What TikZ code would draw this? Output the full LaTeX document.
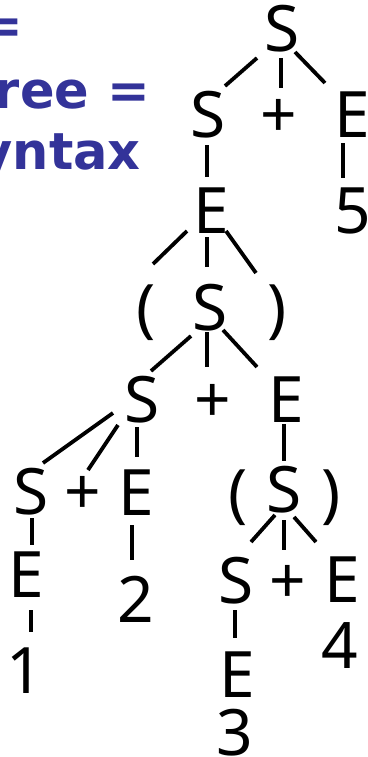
\documentclass[tikz,border=0pt]{standalone}
\usepackage{fontspec}
\setmainfont{Noto Sans}
\newfontfamily\bluefont{DejaVu Sans}
\usetikzlibrary{calc}
\definecolor{slideblue}{RGB}{51,51,153}
\begin{document}
\begin{tikzpicture}[x=1pt,y=-1pt,
  sym/.style={anchor=base,inner sep=0pt,font=\fontsize{64}{64}\selectfont},
  edge/.style={line width=3.8pt},
  heading/.style={anchor=base east,inner sep=0pt,text=slideblue,font=\bluefont\bfseries\fontsize{51}{51}\selectfont}]
\useasboundingbox (0,0) rectangle (367,757);
\clip (0,0) rectangle (367,757);
% heading fragments
\node[heading] (h1) at (23,44) {=};
\node[heading] (h2) at (150,109) {ree =};
\node[heading] (h3) at (141,169) {yntax};
% tree symbols
\node[sym] (s0) at (282,52) {S};
\node[sym] (s1) at (208,138) {S};
\node[sym] (p1) at (279,138) {+};
\node[sym] (e1) at (352,137) {E};
\node[sym] (e2) at (211,233) {E};
\node[sym] (n5) at (353,233) {5};
\node[sym] (lp1) at (146,330) {(};
\node[sym] (s2) at (210,330) {S};
\node[sym] (rp1) at (277,330) {)};
\node[sym] (s3) at (142,422) {S};
\node[sym] (p3) at (213,422) {+};
\node[sym] (e3) at (286,422) {E};
\node[sym] (s4) at (31,514) {S};
\node[sym] (p4) at (83,514) {+};
\node[sym] (e4) at (136,515) {E};
\node[sym] (lp2) at (238,515) {(};
\node[sym] (s5) at (284,512) {S};
\node[sym] (rp2) at (331,515) {)};
\node[sym] (e5) at (26,597) {E};
\node[sym] (n2) at (136,622) {2};
\node[sym] (s6) at (236,603) {S};
\node[sym] (p6) at (288,603) {+};
\node[sym] (e6) at (342,602) {E};
\node[sym] (n1) at (25,693) {1};
\node[sym] (e7) at (237,697) {E};
\node[sym] (n4) at (340,668) {4};
\node[sym] (n3) at (235,755) {3};
% connectors
\draw[edge] ($(s0.base)+(-25,6)$) -- ($(s1.base)+(17,-52)$);
\draw[edge] ($(s0.base)+(-1,6)$) -- ($(p1.base)+(2,-50)$);
\draw[edge] ($(s0.base)+(13,0)$) -- ($(e1.base)+(-27,-54)$);
\draw[edge] ($(s1.base)+(-1,7)$) -- ($(e2.base)+(-4,-56)$);
\draw[edge] ($(e1.base)+(-9,6)$) -- ($(n5.base)+(-10,-55)$);
\draw[edge] ($(e2.base)+(-24,-2)$) -- ($(lp1.base)+(7,-66)$);
\draw[edge] ($(e2.base)+(-4,4)$) -- ($(s2.base)+(-3,-63)$);
\draw[edge] ($(e2.base)+(15,-2)$) -- ($(rp1.base)+(-21,-57)$);
\draw[edge] ($(s2.base)+(-19,6)$) -- ($(s3.base)+(9,-51)$);
\draw[edge] ($(s2.base)+(-3,2)$) -- ($(p3.base)+(-6,-55)$);
\draw[edge] ($(s2.base)+(13,0)$) -- ($(e3.base)+(-29,-55)$);
\draw[edge] ($(s3.base)+(-29,-9)$) -- ($(s4.base)+(12,-51)$);
\draw[edge] ($(s3.base)+(-24,3)$) -- ($(p4.base)+(5,-44)$);
\draw[edge] ($(s3.base)+(-5,5)$) -- ($(e4.base)+(1,-58)$);
\draw[edge] ($(e3.base)+(-2,2)$) -- ($(s5.base)+(0,-51)$);
\draw[edge] ($(s4.base)+(1,4)$) -- ($(e5.base)+(6,-52)$);
\draw[edge] ($(e5.base)+(5,13)$) -- ($(n1.base)+(6,-61)$);
\draw[edge] ($(e4.base)+(-4,10)$) -- ($(n2.base)+(-4,-62)$);
\draw[edge] ($(s5.base)+(-9,3)$) -- ($(s6.base)+(15,-61)$);
\draw[edge] ($(s5.base)+(0,8)$) -- ($(p6.base)+(-4,-53)$);
\draw[edge] ($(s5.base)+(10,5)$) -- ($(e6.base)+(-26,-60)$);
\draw[edge] ($(s6.base)+(-1,7)$) -- ($(e7.base)+(-2,-59)$);
\end{tikzpicture}
\end{document}
